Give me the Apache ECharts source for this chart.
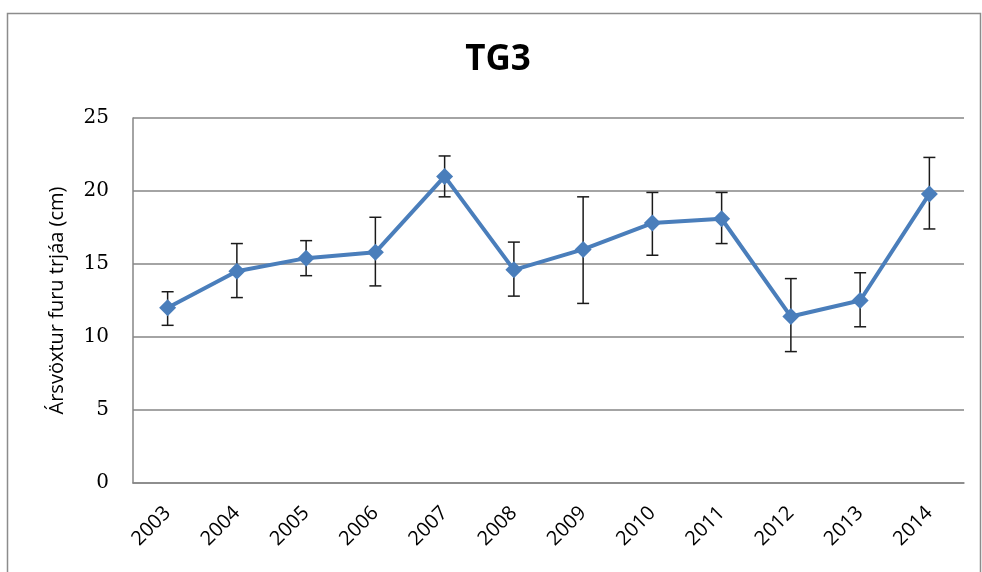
<!DOCTYPE html>
<html>
<head>
<meta charset="utf-8">
<script src="https://cdn.jsdelivr.net/npm/echarts@6/dist/echarts.min.js"></script>
<style>
	html, body { margin: 0; padding: 0; background: #fff; }
	#chart { width: 982px; height: 572px; }
</style>
</head>
<body>
<div id="chart"></div>
<script>
// years on the x axis
var years = ['2003', '2004', '2005', '2006', '2007', '2008', '2009', '2010', '2011', '2012', '2013', '2014'];
// mean growth (cm)
var growth = [12.0, 14.5, 15.4, 15.8, 21.0, 14.6, 16.0, 17.8, 18.1, 11.4, 12.5, 19.8];
// error bar ends
var errLow = [10.8, 12.7, 14.2, 13.5, 19.6, 12.8, 12.3, 15.6, 16.4, 9.0, 10.7, 17.4];
var errHigh = [13.1, 16.4, 16.6, 18.2, 22.4, 16.5, 19.6, 19.9, 19.9, 14.0, 14.4, 22.3];

var errData = [];
for (var i = 0; i < years.length; i++) {
	errData.push([i, errLow[i], errHigh[i]]);
}

var chart = echarts.init(document.getElementById('chart'));

var option = {
	animation: false,
	backgroundColor: '#fff',
	graphic: [{
		type: 'rect',
		shape: { x: 7.5, y: 13.5, width: 973, height: 600 },
		style: { fill: 'none', stroke: '#8c8c8c', lineWidth: 1.5 },
		silent: true
	}],
	title: {
		text: 'TG3',
		left: 493,
		textAlign: 'center',
		top: 38,
		textStyle: {
			fontFamily: 'Open Sans',
			fontWeight: 'bold',
			fontSize: 35,
			color: '#000'
		}
	},
	grid: { left: 133, right: 18, top: 118, bottom: 89 },
	xAxis: {
		type: 'category',
		data: years,
		boundaryGap: true,
		axisLine: { lineStyle: { color: '#868686', width: 1.5 } },
		axisTick: { show: false },
		axisLabel: {
			rotate: 45,
			margin: 27,
			fontFamily: 'Open Sans',
			fontSize: 20,
			color: '#000'
		}
	},
	yAxis: {
		type: 'value',
		min: 0,
		max: 25,
		interval: 5,
		name: 'Ársvöxtur furu trjáa (cm)',
		nameLocation: 'middle',
		nameGap: 66,
		nameTextStyle: { fontFamily: 'Open Sans', fontSize: 20, color: '#000' },
		axisLine: { show: true, lineStyle: { color: '#868686', width: 1.5 } },
		axisTick: { show: false },
		axisLabel: { margin: 24, fontFamily: 'DejaVu Serif', fontSize: 20, color: '#000' },
		splitLine: { lineStyle: { color: '#868686', width: 1.5 } }
	},
	series: [{
		type: 'custom',
		z: 1,
		data: errData,
		renderItem: function (params, api) {
			var x = api.value(0);
			var lo = api.coord([x, api.value(1)]);
			var hi = api.coord([x, api.value(2)]);
			var cap = 6;
			var st = { stroke: '#1a1a1a', lineWidth: 1.5 };
			return {
				type: 'group',
				children: [
					{ type: 'line', shape: { x1: hi[0], y1: hi[1], x2: lo[0], y2: lo[1] }, style: st },
					{ type: 'line', shape: { x1: hi[0] - cap, y1: hi[1], x2: hi[0] + cap, y2: hi[1] }, style: st },
					{ type: 'line', shape: { x1: lo[0] - cap, y1: lo[1], x2: lo[0] + cap, y2: lo[1] }, style: st }
				]
			};
		}
	}, {
		type: 'line',
		z: 2,
		data: growth,
		symbol: 'diamond',
		symbolSize: 17,
		lineStyle: { color: '#4a7ebb', width: 4 },
		itemStyle: { color: '#4a7ebb' }
	}]
};
chart.setOption(option);
</script>
</body>
</html>
